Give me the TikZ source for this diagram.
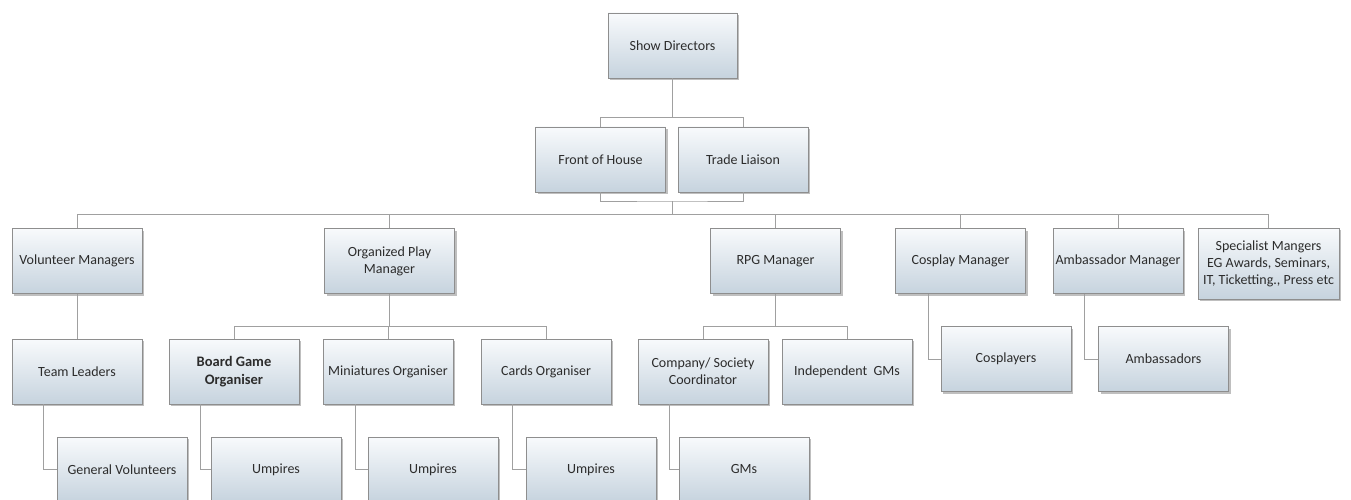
\documentclass[tikz,border=0pt]{standalone}
\usepackage{fontspec}
\setmainfont{Carlito}
\usepackage{tikz}
\usetikzlibrary{
    arrows.meta,
    positioning,
    calc,
    shadows,
}

\definecolor{boxtop}{HTML}{F8FAFC}
\definecolor{boxbottom}{HTML}{C6D3DE}
\definecolor{boxline}{HTML}{8E8E8E}
\definecolor{linkline}{HTML}{A0A0A0}
\definecolor{boxtext}{HTML}{2C2C2C}

\begin{document}
\begin{tikzpicture}[
    x=1pt, y=-1pt,
    role/.style={draw=boxline, line width=0.8pt, top color=boxtop, bottom color=boxbottom,
        drop shadow={opacity=0.5, shadow xshift=2pt, shadow yshift=-2pt},
        minimum width=130pt, minimum height=65pt, inner sep=1pt, align=center,
        text=boxtext, font=\fontsize{14}{17}\selectfont},
    link/.style={draw=linkline, line width=0.8pt},
]

\useasboundingbox (0,0) rectangle (1351,500);

\node[role, minimum width=129pt] (sd) at (672.5,45.5) {Show Directors};

\node[role] (foh) at (600.5,159.5) {Front of House};
\node[role] (tl) at (743,159.5) {Trade Liaison};

\node[role] (vm) at (77,261) {Volunteer Managers};
\node[role] (opm) at (389.5,261) {Organized Play\\Manager};
\node[role] (rpg) at (775.5,261) {RPG Manager};
\node[role] (cm) at (960.5,261) {Cosplay Manager};
\node[role] (am) at (1118,261) {Ambassador Manager};
\node[role, minimum width=141pt, minimum height=71pt, inner sep=0pt] (sm) at (1268.5,263.5) {Specialist Mangers\\EG Awards, Seminars,\\IT, Ticketting., Press etc};

\node[role] (tlead) at (77,371.5) {Team Leaders};
\node[role, font=\fontsize{14.5}{17.5}\selectfont\bfseries] (bgo) at (234,371.5) {Board Game\\Organiser};
\node[role] (mo) at (388,371.5) {Miniatures Organiser};
\node[role] (co) at (546,371.5) {Cards Organiser};
\node[role] (csc) at (703,371.5) {Company/ Society\\Coordinator};
\node[role] (igm) at (847,371.5) {Independent~ GMs};

\node[role] (cos) at (1006,359) {Cosplayers};
\node[role] (amb) at (1163.5,359) {Ambassadors};

\node[role] (gv) at (122,469.5) {General Volunteers};
\node[role] (ump1) at (276,469.5) {Umpires};
\node[role] (ump2) at (433,469.5) {Umpires};
\node[role] (ump3) at (591,469.5) {Umpires};
\node[role] (gms) at (744,469.5) {GMs};

\coordinate (fb) at (672.5,201);
\coordinate (mb) at (672.5,214);

\draw[link] (sd.south) -- ++(0,39) -| (foh.north);
\draw[link] (sd.south) -- ++(0,39) -| (tl.north);
\draw[link] (foh.south) |- (fb) -| (tl.south);
\draw[link] (fb) -- (mb);
\foreach \n in {vm,opm,rpg,cm,am,sm}
    \draw[link] (mb) -| (\n.north);

\draw[link] (vm.south) -- (tlead.north);
\foreach \n in {bgo,mo,co}
    \draw[link] (opm.south) -- ++(0,32) -| (\n.north);
\foreach \n in {csc,igm}
    \draw[link] (rpg.south) -- ++(0,32) -| (\n.north);

\draw[link] ([xshift=32pt]tlead.south west) |- (gv.west);
\draw[link] ([xshift=32pt]bgo.south west) |- (ump1.west);
\draw[link] ([xshift=33pt]mo.south west) |- (ump2.west);
\draw[link] ([xshift=32pt]co.south west) |- (ump3.west);
\draw[link] ([xshift=32pt]csc.south west) |- (gms.west);
\draw[link] ([xshift=33pt]cm.south west) |- (cos.west);
\draw[link] ([xshift=32pt]am.south west) |- (amb.west);

\end{tikzpicture}
\end{document}
